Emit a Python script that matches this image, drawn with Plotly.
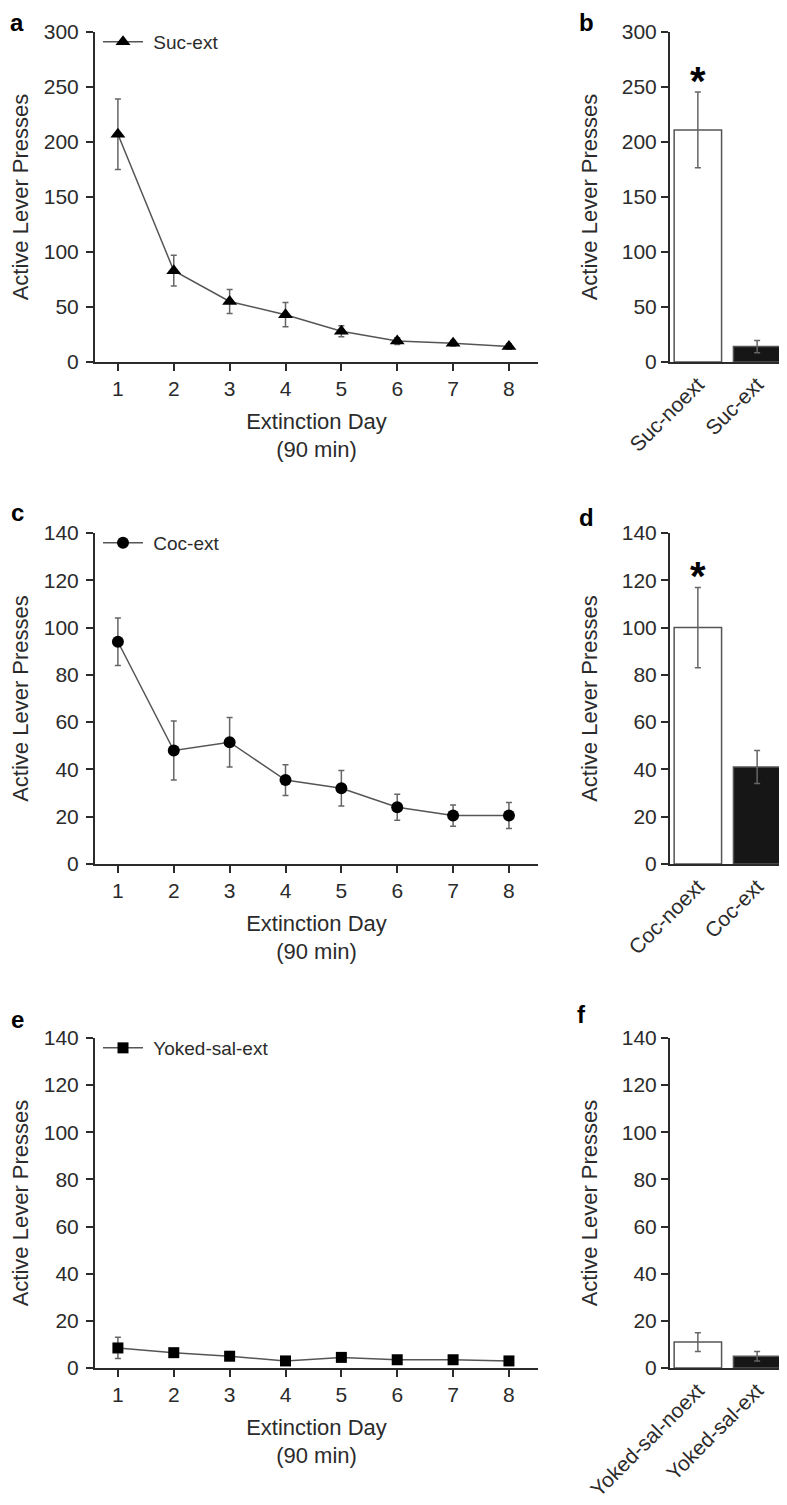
import plotly.graph_objects as go

days = [1, 2, 3, 4, 5, 6, 7, 8]

suc_ext = [207, 83, 55, 43, 28, 19, 17, 14]
suc_ext_err = [32, 14, 11, 11, 5, 3, 2.5, 2.5]
coc_ext = [94, 48, 51.5, 35.5, 32, 24, 20.5, 20.5]
coc_ext_err = [10, 12.5, 10.5, 6.5, 7.5, 5.5, 4.5, 5.5]
sal_ext = [8.5, 6.5, 5, 3, 4.5, 3.5, 3.5, 3]
sal_ext_err = [4.5, 1.5, 1, 1, 1, 0.5, 0.5, 0.5]

suc_groups = ["Suc-noext", "Suc-ext"]
suc_means = [211, 14]
suc_errs = [34.5, 5.5]
coc_groups = ["Coc-noext", "Coc-ext"]
coc_means = [100, 41]
coc_errs = [17, 7]
sal_groups = ["Yoked-sal-noext", "Yoked-sal-ext"]
sal_means = [11, 5]
sal_errs = [4, 2]

# page body has an 8px margin, so the figure is shrunk and shifted to fit
OFF = 8
W, H = 787 - OFF, 1505 - OFF
FONT = "Liberation Sans, Arial, sans-serif"
INK = "#2b2b2b"


def px_x(a, b):
    return [(a - OFF) / W, (b - OFF) / W]


def px_y(top, bottom):
    return [1 - (bottom - OFF) / H, 1 - (top - OFF) / H]


fig = go.Figure()

line_panels = [
    ("x", "y", suc_ext, suc_ext_err, "triangle-up", 13, "Suc-ext", "legend"),
    ("x3", "y3", coc_ext, coc_ext_err, "circle", 12, "Coc-ext", "legend2"),
    ("x5", "y5", sal_ext, sal_ext_err, "square", 11, "Yoked-sal-ext", "legend3"),
]
for xa, ya, vals, errs, sym, size, name, leg in line_panels:
    fig.add_trace(
        go.Scatter(
            x=days,
            y=vals,
            xaxis=xa,
            yaxis=ya,
            name="\u00a0" + name,
            legend=leg,
            mode="lines+markers",
            line=dict(color="#555555", width=1.5),
            marker=dict(symbol=sym, size=size, color="black"),
            error_y=dict(
                type="data", array=errs, color="#666666", thickness=1.5, width=3
            ),
        )
    )

bar_panels = [
    ("x2", "y2", suc_groups, suc_means, suc_errs),
    ("x4", "y4", coc_groups, coc_means, coc_errs),
    ("x6", "y6", sal_groups, sal_means, sal_errs),
]
for xa, ya, groups, means, errs in bar_panels:
    fig.add_trace(
        go.Bar(
            x=groups,
            y=means,
            xaxis=xa,
            yaxis=ya,
            width=0.8,
            showlegend=False,
            marker=dict(
                color=["white", "#161616"], line=dict(color="#555555", width=1.5)
            ),
            error_y=dict(
                type="data",
                array=errs,
                color="#666666",
                thickness=1.5,
                width=3,
            ),
        )
    )

axis_common = dict(
    automargin=False,
    showline=True,
    linecolor=INK,
    linewidth=2,
    ticks="outside",
    tickcolor=INK,
    tickwidth=1.5,
    ticklen=7,
    showgrid=False,
    zeroline=False,
    tickfont=dict(family=FONT, size=21, color=INK),
    title_font=dict(family=FONT, size=22, color=INK),
)

rows = [
    (32, 362, 300, 50),
    (533, 864, 140, 20),
    (1038, 1368, 140, 20),
]
layout = {}
for i, (top, bottom, ymax, dtick) in enumerate(rows):
    n_line = 2 * i + 1
    n_bar = 2 * i + 2
    sl = "" if n_line == 1 else str(n_line)
    sb = str(n_bar)
    layout["xaxis" + sl] = dict(
        axis_common,
        domain=px_x(95, 538),
        range=[0.59, 8.52],
        tickvals=days,
        anchor="y" + sl,
        title=dict(text="Extinction Day<br>(90 min)", standoff=14),
    )
    layout["yaxis" + sl] = dict(
        axis_common,
        domain=px_y(top, bottom),
        range=[0, ymax],
        dtick=dtick,
        anchor="x" + sl,
        ticklabelstandoff=3,
        title=dict(text="Active Lever Presses", standoff=22),
    )
    layout["xaxis" + sb] = dict(
        axis_common,
        domain=px_x(670, 785),
        range=[-0.47, 1.47],
        ticks="",
        tickangle=-45,
        anchor="y" + sb,
    )
    layout["yaxis" + sb] = dict(
        axis_common,
        domain=px_y(top, bottom),
        range=[0, ymax],
        dtick=dtick,
        anchor="x" + sb,
        title=dict(text="Active Lever Presses", standoff=18),
    )

legend_common = dict(
    xanchor="left",
    yanchor="middle",
    bgcolor="rgba(0,0,0,0)",
    font=dict(family=FONT, size=19, color=INK),
    itemwidth=40,
)
layout["legend"] = dict(legend_common, x=(98 - OFF) / W, y=1 - (42 - OFF) / H)
layout["legend2"] = dict(legend_common, x=(98 - OFF) / W, y=1 - (543 - OFF) / H)
layout["legend3"] = dict(legend_common, x=(98 - OFF) / W, y=1 - (1048 - OFF) / H)

fig.update_layout(
    template="none",
    width=W,
    height=H,
    margin=dict(l=0, r=0, t=0, b=0),
    paper_bgcolor="white",
    plot_bgcolor="white",
    bargap=0.2,
    **layout,
)

# significance stars above the no-extinction bars
for xa, ya, groups, means, errs in bar_panels[:2]:
    fig.add_annotation(
        x=groups[0],
        y=means[0] + errs[0],
        xref=xa,
        yref=ya,
        text="<b>*</b>",
        showarrow=False,
        yanchor="bottom",
        yshift=-13,
        font=dict(family=FONT, size=40, color="black"),
    )

# panel letters (top row is pinned to the figure's top edge)
for letter, lx, ly, anchor in [
    ("a", 17, None, "top"), ("b", 586, None, "top"),
    ("c", 17, 513, "middle"), ("d", 586, 517, "middle"),
    ("e", 17, 1019, "middle"), ("f", 581, 1014, "middle"),
]:
    fig.add_annotation(
        x=(lx - OFF) / W,
        y=1 if ly is None else 1 - (ly - OFF) / H,
        xref="paper",
        yref="paper",
        text="<b>" + letter + "</b>",
        showarrow=False,
        xanchor="center",
        yanchor=anchor,
        borderpad=0,
        font=dict(family=FONT, size=24, color="black"),
    )

fig.write_html("out.html")
